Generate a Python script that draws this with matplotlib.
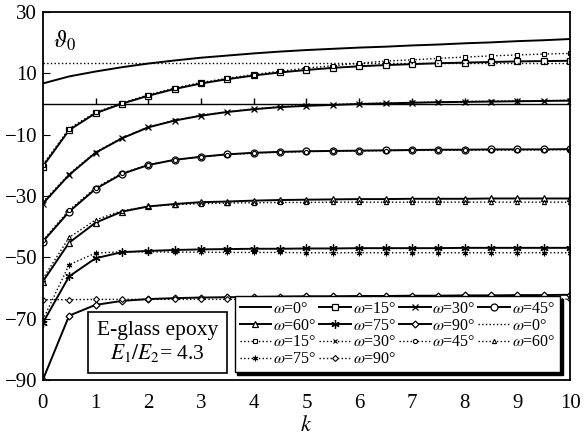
import matplotlib
matplotlib.use("Agg")
import matplotlib.pyplot as plt
import numpy as np

plt.rcParams['font.family'] = 'serif'
plt.rcParams['font.serif'] = ['Liberation Serif', 'DejaVu Serif']
plt.rcParams['mathtext.fontset'] = 'stix'

# k values where the curves were read (markers every 0.5)
k = np.arange(0, 10.5, 0.5)

# solid curves
s0 = [6.7, 9.0, 10.6, 12.0, 13.2, 14.2, 15.1, 15.8, 16.5, 17.1, 17.6,
      18.0, 18.4, 18.7, 19.1, 19.4, 19.8, 20.1, 20.5, 20.8, 21.2]
s15 = [-20.4, -8.5, -3.0, 0.1, 2.7, 4.9, 6.7, 8.1, 9.3, 10.3, 11.1,
       11.8, 12.3, 12.7, 13.0, 13.3, 13.5, 13.7, 13.9, 14.0, 14.1]
s30 = [-32.5, -23.1, -15.9, -11.2, -7.6, -5.4, -3.8, -2.6, -1.7, -1.0, -0.6,
       -0.3, 0.0, 0.2, 0.4, 0.6, 0.7, 0.8, 0.9, 1.0, 1.1]
s45 = [-44.9, -35.1, -27.7, -22.8, -19.9, -18.2, -17.2, -16.4, -15.9, -15.6, -15.4,
       -15.3, -15.2, -15.1, -15.0, -14.9, -14.9, -14.8, -14.8, -14.8, -14.7]
s60 = [-57.9, -45.2, -38.7, -35.1, -33.4, -32.6, -32.0, -31.8, -31.5, -31.3, -31.2,
       -31.1, -31.0, -31.0, -30.9, -30.9, -30.9, -30.8, -30.8, -30.8, -30.8]
s75 = [-71.4, -56.2, -50.3, -48.3, -47.9, -47.6, -47.4, -47.3, -47.2, -47.2, -47.1,
       -47.1, -47.0, -47.0, -47.0, -47.0, -46.9, -46.9, -46.9, -46.9, -46.9]
s90 = [-90.0, -69.0, -65.5, -64.2, -63.6, -63.3, -63.1, -63.0, -62.9, -62.8, -62.7,
       -62.7, -62.6, -62.6, -62.5, -62.5, -62.4, -62.4, -62.3, -62.3, -62.2]

# dotted curves
d0 = [13.5] * 21
d15 = [-19.8, -8.0, -2.7, 0.3, 3.0, 5.2, 7.0, 8.4, 9.6, 10.7, 11.7,
       12.5, 13.3, 14.0, 14.4, 14.9, 15.3, 15.7, 16.0, 16.3, 16.5]
d30 = [-32.0, -22.8, -15.7, -11.0, -7.5, -5.3, -3.7, -2.5, -1.6, -0.9, -0.5,
       -0.2, 0.1, 0.3, 0.5, 0.6, 0.8, 0.9, 1.0, 1.1, 1.2]
d45 = [-44.5, -34.6, -27.3, -22.6, -19.8, -18.2, -17.2, -16.5, -16.0, -15.7, -15.5,
       -15.4, -15.3, -15.2, -15.1, -15.1, -15.0, -15.0, -15.0, -14.9, -14.9]
d60 = [-57.0, -43.5, -37.8, -34.8, -33.4, -32.8, -32.5, -32.3, -32.2, -32.1, -32.1,
       -32.0, -32.0, -32.0, -32.0, -32.0, -32.0, -32.0, -32.0, -32.0, -32.0]
d75 = [-70.4, -52.4, -48.6, -48.2, -48.2, -48.3, -48.3, -48.4, -48.4, -48.4, -48.5,
       -48.5, -48.5, -48.5, -48.5, -48.5, -48.5, -48.5, -48.5, -48.5, -48.5]
d90 = [-63.8, -63.8, -63.7, -63.7, -63.7, -63.7, -63.7, -63.7, -63.7, -63.7, -63.7,
       -63.7, -63.6, -63.6, -63.6, -63.6, -63.6, -63.6, -63.6, -63.6, -63.6]

angles = [0, 15, 30, 45, 60, 75, 90]
solid = [s0, s15, s30, s45, s60, s75, s90]
dotted = [d0, d15, d30, d45, d60, d75, d90]
markers = [None, 's', 'x', 'o', '^', (6, 2, 0), 'D']
big_ms = [0, 5, 5, 5, 5, 6, 3.5]
small_ms = [0, 3.5, 3, 3, 3, 4, 3]

fig = plt.figure(figsize=(5.86, 4.45), dpi=100)
ax = fig.add_axes([0.073, 0.146, 0.9, 0.827])

handles = []
for a, y, m, ms in zip(angles, solid, markers, big_ms):
    h, = ax.plot(k, y, color='black', lw=1.4, marker=m, ms=ms,
                 mfc='white', mec='black', mew=0.9, label=r'$\omega$=%d°' % a)
    handles.append(h)
for a, y, m, ms in zip(angles, dotted, markers, small_ms):
    h, = ax.plot(k, y, color='black', lw=1.0, ls=':', marker=m, ms=ms,
                 mfc='white', mec='black', mew=0.8, label=r'$\omega$=%d°' % a)
    handles.append(h)

ax.set_xlim(0, 10)
ax.set_ylim(-90, 30)
ax.set_xticks(np.arange(0, 11, 1))
ax.set_yticks(np.arange(-90, 31, 20))
ax.tick_params(axis='x', length=0, labelsize=15, pad=10)
ax.tick_params(axis='y', direction='in', length=5, labelsize=15, pad=4)
for sp in ax.spines.values():
    sp.set_linewidth(1.3)

# zero line with upward ticks
zero = ax.secondary_xaxis(90 / 120)
zero.set_xticks(np.arange(1, 10, 1))
zero.tick_params(direction='out', length=4, width=1.0, labeltop=False)
zero.spines['top'].set_linewidth(1.0)

ax.set_xlabel(r'$k$', fontsize=16, labelpad=2)
ax.text(0.02, 0.955, r'$\vartheta_0$', transform=ax.transAxes, fontsize=17,
        ha='left', va='top')

ax.text(0.217, 0.102, 'E-glass epoxy\n' + r'$E_1/E_2$= 4.3', transform=ax.transAxes,
        fontsize=15.5, ha='center', va='center', linespacing=1.1,
        bbox=dict(boxstyle='square,pad=0.42', fc='white', ec='black', lw=1.2))

# legend in row order with 4 columns
order = [0, 4, 8, 12, 1, 5, 9, 13, 2, 6, 10, 3, 7, 11]
leg = ax.legend([handles[i] for i in order], [handles[i].get_label() for i in order],
                ncol=4, loc='lower right', bbox_to_anchor=(0.981, 0.022),
                borderaxespad=0, fontsize=11.5, handlelength=2.0, handletextpad=0.1,
                columnspacing=0.15, labelspacing=0.05, borderpad=0.3,
                fancybox=False, framealpha=1, edgecolor='black',
                shadow={'color': 'black', 'alpha': 1})
leg.get_frame().set_linewidth(1.0)

fig.savefig('out.png', dpi=100)
